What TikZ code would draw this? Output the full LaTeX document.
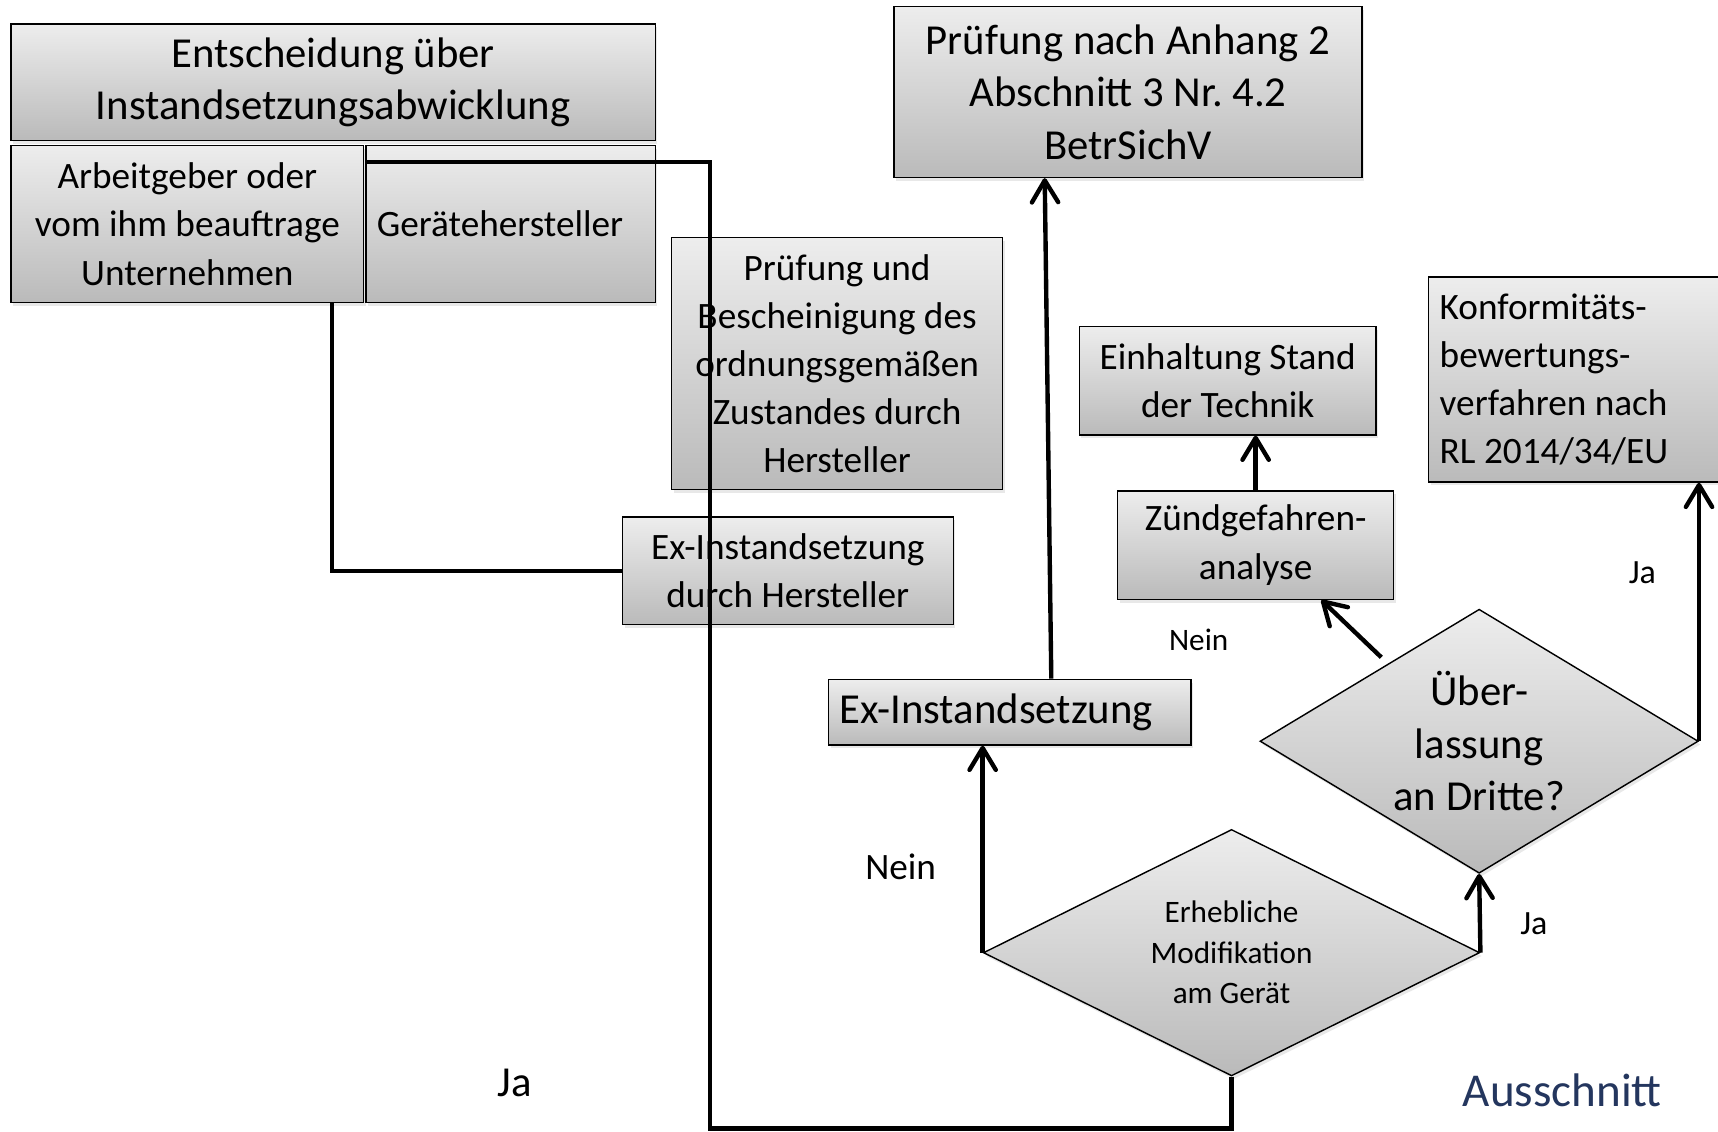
\documentclass[tikz,border=0pt]{standalone}
\usepackage{fontspec}
\setmainfont{Carlito}
\usetikzlibrary{arrows.meta,shapes.geometric,shadows}
\frenchspacing

\definecolor{hellgrau}{RGB}{237,237,237}
\definecolor{dunkelgrau}{RGB}{186,186,186}
\definecolor{ausschnittblau}{RGB}{36,54,94}

\begin{document}
\begin{tikzpicture}[x=1pt,y=-1pt,
	kasten/.style={draw=black, line width=1.3pt, top color=hellgrau, bottom color=dunkelgrau,
		inner sep=0pt, align=center,
		drop shadow={shadow xshift=2pt,shadow yshift=-3pt,opacity=0.18}},
	raute/.style={kasten, shape=diamond},
	verbinder/.style={line width=4pt},
	pfeil/.style={verbinder, -{Straight Barb[length=20pt,width=24pt,round]}},
	gross/.style={font=\fontsize{39}{48}\selectfont},
	mittel/.style={font=\fontsize{34}{44}\selectfont},
	klein/.style={font=\fontsize{28.5}{37}\selectfont}]

	%Bildausschnitt (rechter Kasten ist angeschnitten)
	\clip (0,0) rectangle (1568,1033);

	%Kaesten links: Entscheidung und Beteiligte
	\node[kasten, gross, minimum width=588pt, minimum height=106pt] (entscheidung) at (304,75)
		{Entscheidung über\\Instandsetzungsabwicklung};
	\node[kasten, mittel, minimum width=322pt, minimum height=143pt] (arbeitgeber) at (171,204.5)
		{Arbeitgeber oder\\vom ihm beauftrage\\Unternehmen};
	\node[kasten, mittel, minimum width=264pt, minimum height=143pt, text width=244pt, align=flush left] (hersteller) at (466,204.5)
		{Gerätehersteller};

	%Weg ueber den Hersteller
	\node[kasten, mittel, minimum width=302pt, minimum height=230pt] (bescheinigung) at (764,332)
		{Prüfung und\\Bescheinigung des\\ordnungsgemäßen\\Zustandes durch\\Hersteller};
	\node[kasten, mittel, minimum width=302pt, minimum height=98pt] (exhersteller) at (719,521)
		{Ex-Instandsetzung\\durch Hersteller};

	%Weg ueber den Arbeitgeber
	\node[kasten, gross, minimum width=427pt, minimum height=156pt] (pruefung) at (1029.5,84)
		{Prüfung nach Anhang 2\\Abschnitt 3 Nr. 4.2\\BetrSichV};
	\node[kasten, mittel, minimum width=271pt, minimum height=99pt] (stand) at (1120.5,347.5)
		{Einhaltung Stand\\der Technik};
	\node[kasten, mittel, minimum width=252pt, minimum height=99pt] (zuend) at (1146,497.5)
		{Zündgefahren-\\analyse};
	\node[kasten, mittel, minimum width=280pt, minimum height=187pt, text width=260pt, align=flush left] (konformitaet) at (1444,346.5)
		{Konformitäts-\\bewertungs-\\verfahren nach\\RL 2014/34/EU};
	\node[kasten, gross, minimum width=331pt, minimum height=60pt, text width=311pt, align=flush left] (exinst) at (921.5,650)
		{Ex-Instandsetzung};

	%Entscheidungen
	\node[raute, klein, shape aspect=2, minimum width=453pt, minimum height=225pt] (modifikation) at (1124,869.5)
		{Erhebliche\\Modifikation\\am Gerät};
	\node[raute, gross, shape aspect=1.66, minimum width=400pt, minimum height=241pt] (ueberlassung) at (1350,676.5)
		{Über-\\lassung\\an Dritte?};

	%Verbindungen ohne Pfeil
	\coordinate (knick) at (648,1030);
	\draw[verbinder] (modifikation.south) |- (knick) |- ([yshift=56.5pt]hersteller.west);
	\draw[verbinder] ([xshift=132pt]arbeitgeber.south) |- (exhersteller.west);

	%Pfeile
	\draw[pfeil] (modifikation.west) -- (modifikation.west |- exinst.south);
	\draw[pfeil] (modifikation.east) -- (ueberlassung.south);
	\draw[pfeil] (ueberlassung.east) -- (ueberlassung.east |- konformitaet.south);
	\draw[pfeil] ([xshift=11pt,yshift=16pt]ueberlassung.north west) -- ([xshift=60pt]zuend.south);
	\draw[pfeil] (zuend.north) -- (zuend.north |- stand.south);
	\draw[pfeil] ([xshift=38pt]exinst.north) -- ([xshift=-76pt]pruefung.south);

	%Beschriftungen
	\node[klein, inner sep=0pt] (nein1) at (1094,584) {Nein};
	\node[font=\fontsize{31}{37}\selectfont, inner sep=0pt] (ja1) at (1499,523) {Ja};
	\node[mittel, inner sep=0pt] (nein2) at (822,791) {Nein};
	\node[font=\fontsize{31}{37}\selectfont, inner sep=0pt] (ja2) at (1400,843) {Ja};
	\node[gross, inner sep=0pt] (ja3) at (470,988) {Ja};
	\node[font=\fontsize{43}{52}\selectfont, text=ausschnittblau, inner sep=0pt] (ausschnitt) at (1426,995) {Ausschnitt};

\end{tikzpicture}
\end{document}
